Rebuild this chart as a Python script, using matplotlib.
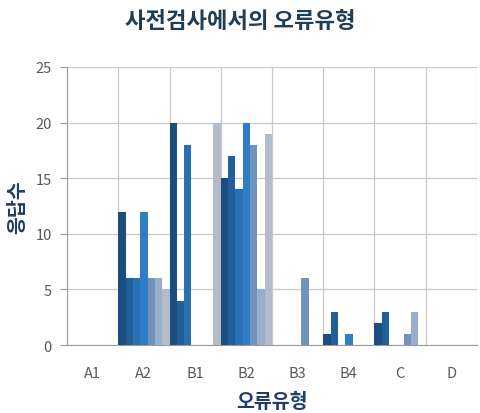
import matplotlib
matplotlib.use("Agg")
import matplotlib.pyplot as plt
import numpy as np

plt.rcParams['font.family'] = ['Noto Sans CJK KR', 'DejaVu Sans']

categories = ['A1', 'A2', 'B1', 'B2', 'B3', 'B4', 'C', 'D']
s1 = [0, 12, 20, 15, 0, 1, 2, 0]
s2 = [0, 6, 4, 17, 0, 3, 3, 0]
s3 = [0, 6, 18, 14, 0, 0, 0, 0]
s4 = [0, 12, 0, 20, 0, 1, 0, 0]
s5 = [0, 6, 0, 18, 6, 0, 1, 0]
s6 = [0, 6, 0, 5, 0, 0, 3, 0]
s7 = [0, 5, 20, 19, 0, 0, 0, 0]
series = [s1, s2, s3, s4, s5, s6, s7]
colors = ['#1b4e7e', '#1f5f9a', '#2a6fb2', '#2f7dc6', '#6f93bd', '#98aecb', '#b2bccb']
yticks = [0, 5, 10, 15, 20, 25]

fig = plt.figure(figsize=(4.8, 4.14), dpi=100)
ax = fig.add_axes([67/480, 1-346/414, (477-67)/480, (346-68)/414])

n = len(series)
w = 1.0 / n
x = np.arange(len(categories))
for j, (vals, c) in enumerate(zip(series, colors)):
    ax.bar(x - 0.5 + (j + 0.5) * w, vals, width=w, color=c, linewidth=0, zorder=3)

ax.set_xlim(-0.5, len(categories) - 0.5)
ax.set_ylim(0, 25)
ax.set_yticks(yticks)
ax.set_xticks(x)
ax.set_xticklabels(categories)
ax.set_xticks(np.arange(len(categories) + 1) - 0.5, minor=True)
ax.grid(True, which='minor', axis='x', color='#c8c8c8', linewidth=0.9, zorder=0)
ax.grid(True, which='major', axis='y', color='#c8c8c8', linewidth=0.9, zorder=0)
ax.tick_params(axis='x', which='both', length=0, colors='#595959', labelsize=10.5, pad=15)
ax.tick_params(axis='y', length=5, color='#9a9a9a', colors='#595959', labelsize=10.5, pad=6)
for s in ['top', 'right']:
    ax.spines[s].set_visible(False)
ax.spines['left'].set_color('#9a9a9a')
ax.spines['bottom'].set_color('#9a9a9a')

ax.set_ylabel('응답수', fontsize=14, fontweight='bold', color='#1f3d66', labelpad=6)
ax.set_xlabel('오류유형', fontsize=14, fontweight='bold', color='#1f3d66', labelpad=9)
fig.text(0.5, 1-21/414, '사전검사에서의 오류유형', ha='center', va='center',
         fontsize=16, fontweight='bold', color='#1f3d55')

fig.savefig('out.png', dpi=100)
